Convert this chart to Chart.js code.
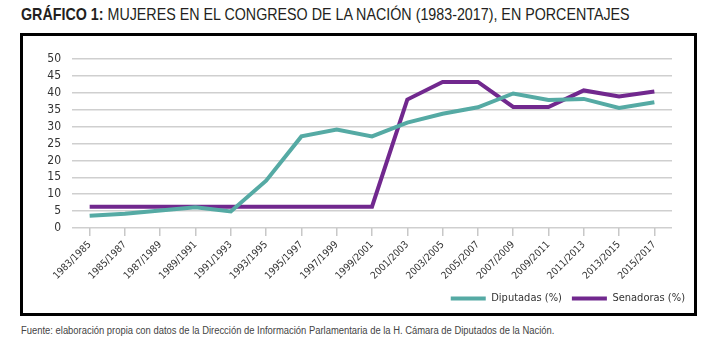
<!DOCTYPE html>
<html lang="es">
<head>
<meta charset="utf-8">
<title>Mujeres en el Congreso de la Nación (1983-2017)</title>
<script src="https://cdn.jsdelivr.net/npm/chart.js@4"></script>
<style>
  body {
    margin: 0;
    background: #fff;
    width: 720px;
    height: 345px;
    position: relative;
    overflow: hidden;
    font-family: 'Liberation Sans', Arial, sans-serif;
  }
  .estrecho {
    position: absolute;
    white-space: nowrap;
    transform-origin: 0 0;
  }
  #titulo {
    left: 21px;
    top: 5px;
    font-size: 17px;
    color: #231f20;
  }
  #titulo b { font-weight: bold; }
  #marco {
    position: absolute;
    left: 20px;
    top: 33px;
    width: 677px;
    height: 283px;
    border: 3.5px solid #000;
    box-sizing: border-box;
  }
  #fuente {
    left: 21px;
    top: 325px;
    font-size: 10px;
    color: #444;
  }
</style>
</head>
<body>
<div id="titulo" class="estrecho" data-ancho="609"><b>GRÁFICO 1:</b> MUJERES EN EL CONGRESO DE LA NACIÓN (1983-2017), EN PORCENTAJES</div>
<div id="marco"><canvas id="grafico" width="670" height="276"></canvas></div>
<div id="fuente" class="estrecho" data-ancho="533">Fuente: elaboración propia con datos de la Dirección de Información Parlamentaria de la H. Cámara de Diputados de la Nación.</div>

<script>
// Periodos legislativos
const periodos = [
    '1983/1985', '1985/1987', '1987/1989', '1989/1991', '1991/1993', '1993/1995',
    '1995/1997', '1997/1999', '1999/2001', '2001/2003', '2003/2005', '2005/2007',
    '2007/2009', '2009/2011', '2011/2013', '2013/2015', '2015/2017'
];

// Porcentaje de mujeres en cada cámara
const diputadas = [3.6, 4.2, 5.2, 6.1, 4.9, 14, 27.1, 29.1, 27.1, 31.2, 33.8, 35.7, 39.8, 37.9, 38.2, 35.5, 37.2];
const senadoras = [6.3, 6.3, 6.3, 6.3, 6.3, 6.3, 6.3, 6.3, 6.3, 38, 43.2, 43.2, 35.8, 35.8, 40.7, 38.9, 40.4];

// Escala del eje vertical
const yMin = 0;
const yMax = 50;
const yPaso = 5;

const TEAL = '#55aaa4';
const PURPLE = '#71288e';
const FUENTE = "'DejaVu Sans Condensed', 'Liberation Sans', sans-serif";

// Comprime horizontalmente los textos para imitar una tipografía condensada
function ajustarTextos() {
    document.querySelectorAll('.estrecho').forEach(el => {
        const objetivo = Number(el.dataset.ancho);
        const escala = objetivo / el.scrollWidth;
        el.style.transform = `scaleX(${escala})`;
    });
}

// Corre la leyenda hacia la derecha (más allá del área del gráfico) y un poco hacia abajo
const moverLeyenda = {
    id: 'moverLeyenda',
    afterLayout(chart) {
        chart.legend.left += 23;
        chart.legend.right += 23;
        chart.legend.top += 2;
        chart.legend.bottom += 2;
    }
};

function dibujarGrafico() {
    const ctx = document.getElementById('grafico').getContext('2d');
    new Chart(ctx, {
        type: 'line',
        data: {
            labels: periodos,
            datasets: [
                {
                    label: 'Diputadas (%)',
                    data: diputadas,
                    borderColor: TEAL,
                    backgroundColor: TEAL,
                    borderWidth: 4
                },
                {
                    label: 'Senadoras (%)',
                    data: senadoras,
                    borderColor: PURPLE,
                    backgroundColor: PURPLE,
                    borderWidth: 4
                }
            ]
        },
        options: {
            responsive: false,
            animation: false,
            layout: { padding: { top: 23, right: 21, left: 0, bottom: 0 } },
            elements: {
                point: { radius: 0 },
                line: { tension: 0, borderJoinStyle: 'miter' }
            },
            scales: {
                y: {
                    min: yMin,
                    max: yMax,
                    ticks: {
                        stepSize: yPaso,
                        autoSkip: false,
                        padding: 11,
                        color: '#333',
                        font: { family: FUENTE, size: 12 }
                    },
                    grid: { color: '#cfcfcf', lineWidth: 1.5, drawTicks: false },
                    border: { display: false },
                    afterFit: scale => { scale.width = 49; }
                },
                x: {
                    offset: true,
                    ticks: {
                        minRotation: 45,
                        maxRotation: 45,
                        autoSkip: false,
                        padding: 3,
                        color: '#333',
                        font: { family: FUENTE, size: 10 }
                    },
                    grid: { drawOnChartArea: false, tickLength: 8, color: '#c8c8c8', lineWidth: 1.5 },
                    border: { display: false },
                    afterFit: scale => { scale.height = 53; }
                }
            },
            plugins: {
                legend: {
                    position: 'bottom',
                    align: 'end',
                    labels: {
                        boxWidth: 35,
                        boxHeight: 4,
                        padding: 10,
                        color: '#333',
                        font: { family: FUENTE, size: 11 },
                        generateLabels: chart => Chart.defaults.plugins.legend.labels
                            .generateLabels(chart)
                            .map(item => Object.assign(item, { lineWidth: 0 }))
                    }
                },
                tooltip: { enabled: false }
            }
        },
        plugins: [moverLeyenda]
    });
}

document.addEventListener('DOMContentLoaded', () => {
    ajustarTextos();
    dibujarGrafico();
});
</script>
</body>
</html>
